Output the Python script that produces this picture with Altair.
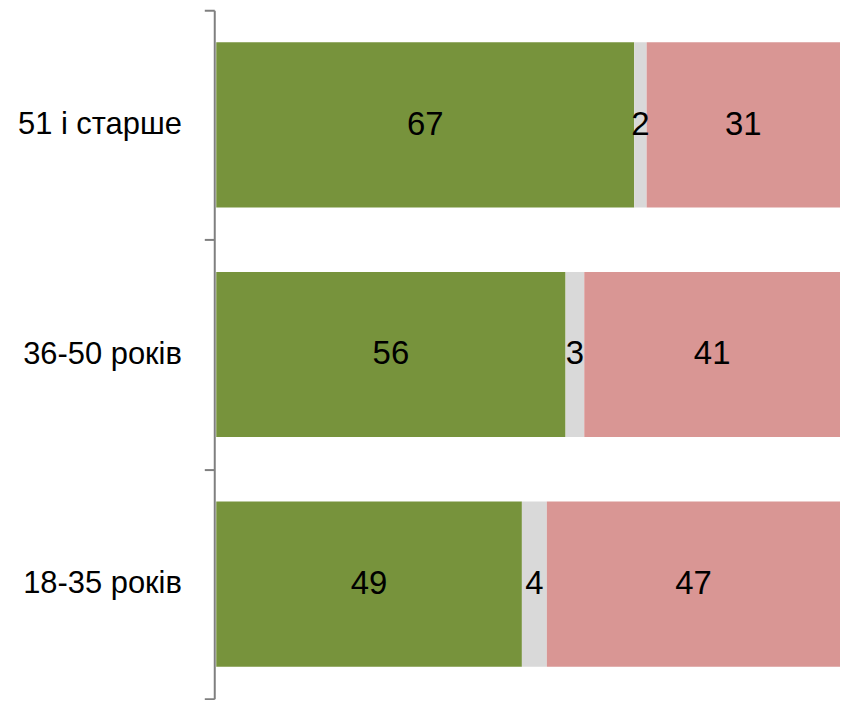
import altair as alt
import pandas as pd

ages = ["51 і старше", "36-50 років", "18-35 років"]
series = ["Так", "Важко відповісти", "Ні"]
colors = ["#77933C", "#D9D9D9", "#D99694"]
yes_vals = [67, 56, 49]
dk_vals = [2, 3, 4]
no_vals = [31, 41, 47]

rows = []
for i, a in enumerate(ages):
    for j, (s, v) in enumerate(zip(series, [yes_vals[i], dk_vals[i], no_vals[i]])):
        rows.append({"age": a, "series": s, "value": v, "order": j})
df = pd.DataFrame(rows)

FONT = "Liberation Sans"

y_enc = alt.Y(
    "age:N",
    sort=ages,
    title=None,
    scale=alt.Scale(paddingInner=0, paddingOuter=0),
    axis=alt.Axis(
        tickBand="extent",
        tickSize=10,
        tickWidth=2,
        tickColor="#7F7F7F",
        domainColor="#7F7F7F",
        domainWidth=2,
        offset=2,
        labelFont=FONT,
        labelFontSize=31,
        labelColor="#000000",
        labelPadding=23,
        labelLimit=300,
        grid=False,
    ),
)

x_scale = alt.Scale(domain=[0, 100], nice=False, zero=True)

bars = alt.Chart(df).mark_bar(height={"band": 0.72}).encode(
    y=y_enc,
    x=alt.X("value:Q", stack="zero", scale=x_scale, axis=None),
    color=alt.Color("series:N", scale=alt.Scale(domain=series, range=colors), legend=None),
    order=alt.Order("order:Q"),
)

labels = alt.Chart(df).transform_window(
    cum="sum(value)", groupby=["age"], sort=[alt.SortField("order")]
).transform_calculate(
    mid="datum.cum - datum.value / 2"
).mark_text(font=FONT, fontSize=33, color="#000000", align="center", baseline="middle").encode(
    y=alt.Y("age:N", sort=ages),
    x=alt.X("mid:Q", scale=x_scale),
    text=alt.Text("value:Q"),
)

chart = alt.layer(bars, labels).properties(
    width=626,
    height=691,
    padding={"left": 209, "top": 1, "right": 0, "bottom": 0},
    autosize=alt.AutoSizeParams(type="none"),
    background="#FFFFFF",
).configure_view(stroke=None)

chart.save("out.html", embed_options={"renderer": "svg", "actions": False})
